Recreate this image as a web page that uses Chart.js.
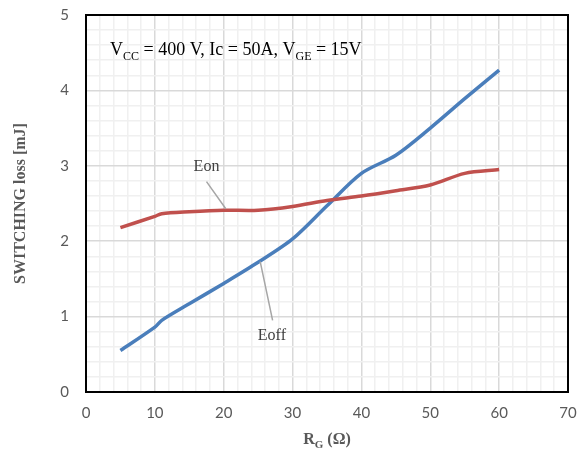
<!DOCTYPE html>
<html>
<head>
<meta charset="utf-8">
<script src="https://cdn.jsdelivr.net/npm/chart.js@4"></script>
<style>
  html, body { margin: 0; padding: 0; background: #ffffff; }
  #wrap { width: 580px; height: 453px; }
</style>
</head>
<body>
<div id="wrap"><canvas id="chart" width="580" height="453"></canvas></div>
<script>
// Gate resistance R_G (Ω) and measured switching energies (mJ)
const gateResistance = [5, 10, 11, 15, 20, 25, 30, 35, 40, 45, 50, 55, 60];
const eonLoss  = [2.18, 2.33, 2.365, 2.39, 2.41, 2.41, 2.46, 2.54, 2.60, 2.67, 2.745, 2.90, 2.95];
const eoffLoss = [0.55, 0.86, 0.95, 1.17, 1.44, 1.72, 2.03, 2.47, 2.90, 3.14, 3.50, 3.89, 4.27];

// Labelled axis ticks
const xTickLabels = [0, 10, 20, 30, 40, 50, 60, 70];
const yTickLabels = [0, 1, 2, 3, 4, 5];

const SERIF = '"Liberation Serif", "Times New Roman", serif';
const TICK_FONT = { family: 'Lato, "Liberation Sans", sans-serif', size: 15 };

function isLabelled(value, list) {
  return list.some(v => Math.abs(v - value) < 1e-6);
}

// Text pieces with subscripts drawn left to right from (x, baseline)
function drawRich(ctx, parts, x, y, size, weight) {
  let cx = x;
  parts.forEach(p => {
    const s = p.sub ? Math.round(size * 0.68) : size;
    ctx.font = `${weight} ${s}px ${SERIF}`;
    ctx.fillText(p.t, cx, p.sub ? y + size * 0.28 : y);
    cx += ctx.measureText(p.t).width;
  });
  return cx - x;
}
function richWidth(ctx, parts, size, weight) {
  let w = 0;
  parts.forEach(p => {
    const s = p.sub ? Math.round(size * 0.68) : size;
    ctx.font = `${weight} ${s}px ${SERIF}`;
    w += ctx.measureText(p.t).width;
  });
  return w;
}

const decorations = {
  id: 'decorations',
  afterDraw(chart) {
    const { ctx, chartArea: a, scales: { x, y } } = chart;
    ctx.save();

    // frame around the plot area
    ctx.strokeStyle = '#000000';
    ctx.lineWidth = 2;
    ctx.strokeRect(a.left, a.top, a.right - a.left, a.bottom - a.top);

    // leader lines for the curve labels
    ctx.strokeStyle = '#a6a6a6';
    ctx.lineWidth = 1.5;
    ctx.beginPath();
    ctx.moveTo(x.getPixelForValue(17.5), y.getPixelForValue(2.79));
    ctx.lineTo(x.getPixelForValue(20.3), y.getPixelForValue(2.43));
    ctx.moveTo(x.getPixelForValue(25.3), y.getPixelForValue(1.73));
    ctx.lineTo(x.getPixelForValue(27.1), y.getPixelForValue(0.95));
    ctx.stroke();

    ctx.fillStyle = '#404040';
    ctx.textAlign = 'center';
    ctx.textBaseline = 'middle';
    ctx.font = `16px ${SERIF}`;
    ctx.fillText('Eon', x.getPixelForValue(17.5), y.getPixelForValue(2.99));
    ctx.fillText('Eoff', x.getPixelForValue(27.0), y.getPixelForValue(0.74));

    // test conditions
    ctx.fillStyle = '#000000';
    ctx.textAlign = 'left';
    ctx.textBaseline = 'alphabetic';
    drawRich(ctx, [
      { t: 'V' }, { t: 'CC', sub: true }, { t: ' = 400 V, Ic = 50A, V' },
      { t: 'GE', sub: true }, { t: ' = 15V' }
    ], 110, 55, 18, 'normal');

    // axis titles
    ctx.fillStyle = '#595959';
    const xt = [{ t: 'R' }, { t: 'G', sub: true }, { t: ' (Ω)' }];
    const xw = richWidth(ctx, xt, 16, 'bold');
    drawRich(ctx, xt, (a.left + a.right) / 2 - xw / 2, 444, 16, 'bold');

    ctx.save();
    ctx.translate(25, (a.top + a.bottom) / 2);
    ctx.rotate(-Math.PI / 2);
    ctx.textAlign = 'center';
    ctx.font = `bold 16px ${SERIF}`;
    ctx.fillText('SWITCHING loss [mJ]', 0, 0);
    ctx.restore();

    ctx.restore();
  }
};

new Chart(document.getElementById('chart'), {
  type: 'line',
  data: {
    datasets: [
      {
        label: 'Eon',
        data: gateResistance.map((r, i) => ({ x: r, y: eonLoss[i] })),
        borderColor: '#c0504d',
        borderWidth: 3.5,
        pointRadius: 0,
        tension: 0.3,
        fill: false
      },
      {
        label: 'Eoff',
        data: gateResistance.map((r, i) => ({ x: r, y: eoffLoss[i] })),
        borderColor: '#4a7ebb',
        borderWidth: 3.5,
        pointRadius: 0,
        tension: 0.3,
        fill: false
      }
    ]
  },
  options: {
    responsive: false,
    animation: false,
    devicePixelRatio: 1,
    layout: { padding: { top: 15, right: 12, left: 0, bottom: 0 } },
    plugins: { legend: { display: false }, tooltip: { enabled: false } },
    scales: {
      x: {
        type: 'linear',
        min: 0,
        max: 70,
        afterFit(scale) {
          scale.height = 61;
          scale.paddingLeft = 0;
          scale.paddingRight = 0;
        },
        border: { display: false },
        grid: {
          drawTicks: false,
          lineWidth: 1.5,
          color: ctx => isLabelled(ctx.tick.value, xTickLabels) ? '#d9d9d9' : '#f0f0f0'
        },
        ticks: {
          stepSize: 2,
          autoSkip: false,
          maxRotation: 0,
          padding: 12,
          color: '#595959',
          font: TICK_FONT,
          callback: v => isLabelled(v, xTickLabels) ? String(Math.round(v)) : ''
        }
      },
      y: {
        min: 0,
        max: 5,
        afterFit(scale) {
          scale.width = 86;
          scale.paddingTop = 0;
          scale.paddingBottom = 0;
        },
        border: { display: false },
        grid: {
          drawTicks: false,
          lineWidth: 1.5,
          color: ctx => isLabelled(ctx.tick.value, yTickLabels) ? '#d9d9d9' : '#f0f0f0'
        },
        ticks: {
          stepSize: 0.2,
          autoSkip: false,
          padding: 17,
          color: '#595959',
          font: TICK_FONT,
          callback: v => isLabelled(v, yTickLabels) ? String(Math.round(v)) : ''
        }
      }
    }
  },
  plugins: [decorations]
});
</script>
</body>
</html>
